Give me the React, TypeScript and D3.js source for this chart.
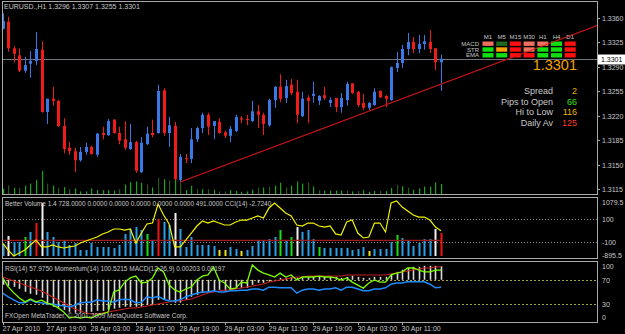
import * as d3 from "d3";
import { useEffect, useRef } from "react";

// EURUSD H1, 27 Apr 2010 11:00 .. 30 Apr 2010 18:00 (80 bars)
const opens = [
  1.3344, 1.3354, 1.3316, 1.3306, 1.3284, 1.3294, 1.3298, 1.3314, 1.3225, 1.3244,
  1.3241, 1.3205, 1.3174, 1.3169, 1.3156, 1.3168, 1.3175, 1.3164, 1.3195, 1.3192,
  1.3214, 1.3195, 1.3186, 1.3172, 1.3182, 1.3139, 1.3179, 1.3195, 1.3195, 1.3256,
  1.3195, 1.3205, 1.3128, 1.3159, 1.3158, 1.3186, 1.3202, 1.3221, 1.3205, 1.3211,
  1.3196, 1.3191, 1.3198, 1.3216, 1.3215, 1.3212, 1.3226, 1.3221, 1.3206, 1.3242,
  1.3261, 1.3245, 1.3264, 1.3254, 1.3219, 1.3245, 1.3248, 1.3241, 1.3249, 1.3238,
  1.3245, 1.3232, 1.3242, 1.3266, 1.3254, 1.3238, 1.3231, 1.3235, 1.3255, 1.3248,
  1.3242, 1.3288, 1.3295, 1.3315, 1.3325, 1.3315, 1.3322, 1.3325, 1.3316, 1.3296,
];
const highs = [
  1.3366, 1.3361, 1.3319, 1.3316, 1.3304, 1.3312, 1.3339, 1.3326, 1.3244, 1.3261,
  1.3242, 1.3216, 1.3182, 1.3174, 1.3175, 1.3181, 1.3177, 1.3195, 1.3204, 1.3215,
  1.3215, 1.3204, 1.3212, 1.3208, 1.3184, 1.3189, 1.3204, 1.3214, 1.3264, 1.3259,
  1.3218, 1.3211, 1.3165, 1.3165, 1.3202, 1.3204, 1.3224, 1.3224, 1.3212, 1.3216,
  1.3198, 1.3205, 1.3221, 1.3219, 1.3221, 1.3241, 1.3235, 1.3224, 1.3244, 1.3262,
  1.3279, 1.3271, 1.3272, 1.3271, 1.3254, 1.3249, 1.3268, 1.3249, 1.3261, 1.3246,
  1.3245, 1.3252, 1.3268, 1.3266, 1.3255, 1.3251, 1.3239, 1.3259, 1.3256, 1.3249,
  1.3290, 1.3311, 1.3321, 1.3338, 1.3332, 1.3335, 1.3335, 1.3342, 1.3316, 1.3307,
];
const lows = [
  1.3343, 1.3311, 1.3296, 1.3282, 1.3281, 1.3274, 1.3292, 1.3224, 1.3208, 1.3234,
  1.3204, 1.3166, 1.3164, 1.3139, 1.3154, 1.3164, 1.3164, 1.3161, 1.3186, 1.3191,
  1.3194, 1.3179, 1.3171, 1.3171, 1.3138, 1.3138, 1.3178, 1.3189, 1.3194, 1.3191,
  1.3175, 1.3128, 1.3125, 1.3152, 1.3152, 1.3182, 1.3195, 1.3192, 1.3186, 1.3194,
  1.3188, 1.3182, 1.3196, 1.3209, 1.3206, 1.3211, 1.3202, 1.3192, 1.3204, 1.3231,
  1.3239, 1.3238, 1.3249, 1.3209, 1.3218, 1.3209, 1.3238, 1.3235, 1.3242, 1.3232,
  1.3225, 1.3224, 1.3234, 1.3251, 1.3232, 1.3228, 1.3228, 1.3234, 1.3245, 1.3232,
  1.3241, 1.3282, 1.3288, 1.3306, 1.3309, 1.3309, 1.3314, 1.3309, 1.3285, 1.3255,
];
const closes = [
  1.3355, 1.3316, 1.3308, 1.3284, 1.3292, 1.3298, 1.3315, 1.3225, 1.3244, 1.3241,
  1.3205, 1.3172, 1.3169, 1.3156, 1.3168, 1.3175, 1.3165, 1.3194, 1.3192, 1.3212,
  1.3195, 1.3184, 1.3174, 1.3182, 1.3141, 1.3181, 1.3194, 1.3192, 1.3255, 1.3195,
  1.3206, 1.3129, 1.3161, 1.3158, 1.3186, 1.3202, 1.3221, 1.3204, 1.3212, 1.3195,
  1.3191, 1.3201, 1.3218, 1.3214, 1.3214, 1.3226, 1.3221, 1.3208, 1.3242, 1.3261,
  1.3244, 1.3262, 1.3252, 1.3221, 1.3244, 1.3241, 1.3251, 1.3248, 1.3245, 1.3242,
  1.3232, 1.3245, 1.3265, 1.3252, 1.3235, 1.3231, 1.3238, 1.3254, 1.3246, 1.3244,
  1.3289, 1.3295, 1.3315, 1.3325, 1.3315, 1.3322, 1.3326, 1.3315, 1.3296, 1.3301,
];
const volumes = [
  380, 630, 440, 440, 600, 760, 1040, 1675, 760, 600,
  440, 505, 350, 410, 190, 190, 410, 285, 285, 285,
  255, 350, 695, 855, 915, 820, 695, 475, 1170, 1075,
  980, 1360, 855, 285, 600, 350, 350, 350, 315, 190,
  190, 285, 220, 160, 190, 315, 475, 475, 535, 600,
  820, 475, 600, 915, 760, 820, 535, 285, 255, 255,
  255, 255, 255, 190, 220, 285, 160, 220, 220, 220,
  440, 665, 570, 475, 315, 410, 535, 535, 855, 728,
];
// main window volume tone: 0 bright, 1 dark
const volTone = [
  0, 1, 0, 1, 0, 0, 0, 0, 1, 0, 1, 0, 1, 0, 0, 0, 0, 0, 0, 0,
  0, 1, 0, 0, 0, 0, 1, 0, 1, 0, 1, 0, 1, 0, 0, 1, 0, 1, 0, 1,
  1, 0, 0, 0, 0, 0, 1, 0, 1, 0, 0, 1, 0, 0, 0, 1, 0, 1, 0, 0,
  0, 0, 1, 0, 1, 0, 0, 0, 1, 0, 0, 1, 0, 1, 0, 0, 0, 0, 0, 0,
];
// Better Volume class: N normal, W climax down, R climax up, G churn, Y low
const bvClass =
  "NWNNGNRWNNNNNNNNNNNNNNNNNNGNRNNWNNNNNNNYYNNYNNNNNNGNGWNNNGNNNNNNNNYNNNNGNNNNNNWR";
const avgVolume = 491;
const cci = [
  -109, -170, -222, -196, -170, -126, -83, -143, -143, -126,
  -143, -152, -143, -135, -109, -91, -74, -57, -30, -13,
  13, 13, 4, 13, -109, -22, 57, 65, 230, 135,
  57, -143, -143, -83, -22, 39, 83, 65, 83, 65,
  48, 48, 74, 91, 91, 109, 126, 109, 196, 239,
  196, 152, 126, 48, 39, 65, 65, 39, 30, 39,
  -30, -39, 74, 91, -22, -65, -57, 65, 65, -13,
  239, 257, 204, 170, 135, 117, 117, 91, 30, -2.724,
];
const rsi = [
  48, 42, 37, 32, 32, 37, 33, 32, 30, 30,
  28, 27, 25, 28, 32, 33, 33, 37, 35, 35,
  33, 37, 38, 37, 32, 33, 42, 40, 43, 38,
  35, 35, 37, 42, 45, 48, 50, 50, 52, 50,
  50, 52, 52, 53, 53, 55, 55, 53, 58, 58,
  57, 57, 57, 48, 53, 55, 55, 53, 55, 55,
  57, 53, 58, 58, 55, 52, 52, 55, 55, 57,
  63, 65, 65, 67, 67, 67, 67, 63, 57, 57.975,
];
const momentum = [
  100.26, 99.96, 99.76, 99.59, 99.46, 99.56, 99.46, 99.52, 99.42, 99.36,
  99.26, 99.12, 98.92, 98.96, 98.92, 98.96, 98.92, 99.02, 99.06, 99.12,
  99.79, 99.86, 100.12, 100.26, 100.32, 100.09, 100.12, 100.26, 100.59, 100.46,
  100.02, 99.86, 99.79, 99.89, 99.96, 100.19, 100.32, 100.36, 100.62, 100.19,
  100.09, 99.89, 99.92, 100.12, 100.09, 100.69, 100.52, 100.42, 100.36, 100.29,
  100.42, 100.29, 100.36, 100.19, 100.29, 100.29, 100.29, 100.32, 100.29, 100.29,
  100.26, 100.19, 100.26, 100.12, 100.02, 99.92, 100.09, 100.19, 100.12, 100.12,
  100.36, 100.42, 100.46, 100.59, 100.59, 100.52, 100.46, 100.46, 100.52, 100.5215,
];
const macdMain = [
  -0.00076, -0.00091, -0.00106, -0.00136, -0.00182, -0.00212, -0.00227, -0.00273, -0.00379, -0.00409,
  -0.00424, -0.00455, -0.00485, -0.005, -0.005, -0.005, -0.00485, -0.0047, -0.0047, -0.00455,
  -0.00439, -0.00424, -0.00409, -0.00409, -0.00409, -0.00409, -0.00379, -0.00379, -0.00303, -0.00303,
  -0.00303, -0.00348, -0.00348, -0.00303, -0.00258, -0.00227, -0.00197, -0.00182, -0.00167, -0.00152,
  -0.00167, -0.00152, -0.00136, -0.00121, -0.00121, -0.00076, -0.00045, -0.00045, -0.0003, -0.00005,
  0.0003, 0.0003, 0.00045, 0.0003, 0.0003, 0.00045, 0.00045, 0.00045, 0.00045, 0.00045,
  0.00045, 0.0003, 0.00045, 0.00061, 0.00045, 0.0003, 0.0003, 0.00045, 0.00045, 0.00045,
  0.00091, 0.00121, 0.00152, 0.00182, 0.00197, 0.00197, 0.00212, 0.00212, 0.00212, 0.00203,
];
const macdSignal = [
  0.00042, 0.00012, -0.00018, -0.00048, -0.00079, -0.00109, -0.00139, -0.0017, -0.00215, -0.00261,
  -0.00306, -0.00352, -0.00397, -0.00442, -0.00473, -0.00503, -0.00518, -0.00518, -0.00503, -0.00488,
  -0.00473, -0.00458, -0.00442, -0.00427, -0.00427, -0.00412, -0.00397, -0.00382, -0.00367, -0.00352,
  -0.00336, -0.00321, -0.00321, -0.00306, -0.00291, -0.00261, -0.0023, -0.002, -0.00185, -0.0017,
  -0.00155, -0.00155, -0.00139, -0.00124, -0.00109, -0.00094, -0.00079, -0.00064, -0.00033, -0.00018,
  -0.00003, 0.00012, 0.00027, 0.00042, 0.00042, 0.00058, 0.00058, 0.00058, 0.00058, 0.00058,
  0.00058, 0.00058, 0.00073, 0.00073, 0.00073, 0.00073, 0.00073, 0.00073, 0.00073, 0.00073,
  0.00088, 0.00103, 0.00118, 0.00133, 0.00148, 0.00164, 0.00179, 0.00179, 0.00194, 0.00197,
];
const dateLabels = [
  "27 Apr 2010", "27 Apr 19:00", "28 Apr 03:00", "28 Apr 11:00", "28 Apr 19:00",
  "29 Apr 03:00", "29 Apr 11:00", "29 Apr 19:00", "30 Apr 03:00", "30 Apr 11:00",
];
const priceTicks = [1.336, 1.3325, 1.329, 1.3255, 1.322, 1.3185, 1.315, 1.3115];
const trendPoints: [number, number][] = [[32, 1.3125], [107.3, 1.3349]];
const lastPrice = 1.3301;

const timeframes = ["M1", "M5", "M15", "M30", "H1", "H4", "D1"];
const signalRows = ["MACD", "STR", "EMA"];
// U strong up, u weak up, D strong down, d weak down, o flat
const signalGrid = ["duDddUD", "UoDdUUD", "UUDDUUD"];
const infoLabels = ["Spread", "Pips to Open", "Hi to Low", "Daily Av"];
const infoValues = [2, 66, 116, 125];

const cciLevels = [100, -100];
const rsiLevels = [70, 30];

export default function App() {
  const ref = useRef<SVGSVGElement>(null);

  useEffect(() => {
    const svg = d3.select(ref.current);
    svg.selectAll("*").remove();
    const root = svg.append("g").attr("font-family", "'Liberation Sans', Arial, sans-serif");
    root.append("rect").attr("width", 625).attr("height", 334).attr("fill", "#000");

    const L = 2, R = 597;
    const main = { t: 1, b: 194 }, p2 = { t: 197, b: 258 }, p3 = { t: 261, b: 322 };
    const frame = "#a9a9a9", txt = "#c8c8c8";
    const idx = d3.range(closes.length);

    const x = d3.scaleLinear().domain([0, 79]).range([2.7, 441]);
    const px = (i: number) => Math.round(x(i)) + 0.5;
    const y = d3.scaleLinear().domain([1.3115, 1.336]).range([189, 17.5]);
    const vMain = d3.scaleLinear().domain([0, 1675]).range([194, 171]);
    const vBV = d3.scaleLinear().domain([0, 1675]).range([256, 203]);
    const yCCI = d3.scaleLinear().domain([-100, 100]).range([242, 219]);
    const yRSI = d3.scaleLinear().domain([0, 100]).range([322, 262]);
    const yMom = d3.scaleLinear().domain([98.79, 100.79]).range([322, 262]);
    const yMACD = d3.scaleLinear().domain([-0.0064, 0.0027]).range([322, 262]);

    const clip = (id: string, t: number, b: number) =>
      svg.append("clipPath").attr("id", id).append("rect").attr("x", L).attr("y", t).attr("width", R - L).attr("height", b - t);
    clip("cMain", main.t, main.b);
    clip("cP2", p2.t, p2.b);
    clip("cP3", p3.t, p3.b);

    // ---- main window
    const gm = root.append("g").attr("clip-path", "url(#cMain)");
    gm.append("line").attr("x1", L).attr("x2", R)
      .attr("y1", Math.round(y(lastPrice)) + 0.5).attr("y2", Math.round(y(lastPrice)) + 0.5)
      .attr("stroke", "#6f7682");

    gm.selectAll(".vol").data(idx).join("rect")
      .attr("x", (i) => px(i) - 0.5).attr("width", 1.2)
      .attr("y", (i) => vMain(volumes[i])).attr("height", (i) => 194 - vMain(volumes[i]))
      .attr("fill", (i) => (volTone[i] ? "#2c5519" : "#1aa41a"));

    const bull = "#3a78e8", bear = "#f01c1c";
    const cg = gm.append("g");
    idx.forEach((i) => {
      const c = closes[i] >= opens[i] ? bull : bear;
      cg.append("line").attr("x1", px(i)).attr("x2", px(i))
        .attr("y1", y(highs[i])).attr("y2", y(lows[i])).attr("stroke", c);
      const top = y(Math.max(opens[i], closes[i]));
      const h = Math.max(1, Math.abs(y(opens[i]) - y(closes[i])));
      cg.append("rect").attr("x", px(i) - 1.5).attr("width", 3)
        .attr("y", top).attr("height", h).attr("fill", c);
    });

    gm.append("line")
      .attr("x1", x(trendPoints[0][0])).attr("y1", y(trendPoints[0][1]))
      .attr("x2", x(trendPoints[1][0])).attr("y2", y(trendPoints[1][1]))
      .attr("stroke", "#c81414").attr("stroke-width", 1);

    root.append("text").attr("x", 4).attr("y", 9).attr("font-size", 7).attr("fill", txt)
      .text(`EURUSD.,H1  ${opens[79].toFixed(4)} ${highs[79].toFixed(4)} ${lows[79].toFixed(4)} ${closes[79].toFixed(4)}`);

    // signal table
    const sigColor: Record<string, string> = { U: "#10e010", u: "#1d6a1d", D: "#ff1010", d: "#f07060", o: "#ffa000" };
    const colX = (c: number) => 488 + c * 13.7;
    timeframes.forEach((tf, c) => {
      root.append("text").attr("x", colX(c)).attr("y", 38.5).attr("text-anchor", "middle")
        .attr("font-size", 6).attr("fill", txt).text(tf);
    });
    signalRows.forEach((row, r) => {
      const cy = 43.5 + r * 5.8;
      root.append("text").attr("x", 479).attr("y", cy + 2.2).attr("text-anchor", "end")
        .attr("font-size", 6).attr("fill", txt).text(row);
      signalGrid[r].split("").forEach((s, c) => {
        root.append("rect").attr("x", colX(c) - 5.5).attr("y", cy - 2).attr("width", 11).attr("height", 4.4)
          .attr("fill", sigColor[s]);
      });
    });
    // trend line drawn again over the table, as the terminal does
    root.append("line").attr("clip-path", "url(#cMain)")
      .attr("x1", x(trendPoints[0][0])).attr("y1", y(trendPoints[0][1]))
      .attr("x2", x(trendPoints[1][0])).attr("y2", y(trendPoints[1][1]))
      .attr("stroke", "#c81414").attr("stroke-opacity", 0.7);

    root.append("text").attr("x", 577).attr("y", 70).attr("text-anchor", "end")
      .attr("font-size", 14.5).attr("fill", "#f5a000").text(lastPrice.toFixed(4));
    const infoColors = ["#e8b400", "#30e010", "#e8b400", "#ff3c1e"];
    infoLabels.forEach((lab, k) => {
      const by = 94 + k * 10.7;
      root.append("text").attr("x", 553).attr("y", by).attr("text-anchor", "end")
        .attr("font-size", 9).attr("fill", txt).text(lab);
      root.append("text").attr("x", 577).attr("y", by).attr("text-anchor", "end")
        .attr("font-size", 9).attr("fill", infoColors[k]).text(String(infoValues[k]));
    });

    // ---- Better Volume + CCI
    const g2 = root.append("g").attr("clip-path", "url(#cP2)");
    cciLevels.forEach((lv) => {
      g2.append("line").attr("x1", L).attr("x2", R)
        .attr("y1", Math.round(yCCI(lv)) + 0.5).attr("y2", Math.round(yCCI(lv)) + 0.5)
        .attr("stroke", "#8a8a8a").attr("stroke-dasharray", "1,2");
    });
    const bvColor: Record<string, string> = { N: "#2aa0e6", W: "#f0f0f0", R: "#f01414", G: "#18e018", Y: "#e8e020" };
    g2.selectAll(".bv").data(idx).join("rect")
      .attr("x", (i) => px(i) - 1).attr("width", 2)
      .attr("y", (i) => vBV(volumes[i])).attr("height", (i) => 256 - vBV(volumes[i]))
      .attr("fill", (i) => bvColor[bvClass[i]]);
    g2.append("line").attr("x1", L).attr("x2", x(79))
      .attr("y1", vBV(avgVolume)).attr("y2", vBV(avgVolume))
      .attr("stroke", "#a01c1c").attr("stroke-width", 1.2);
    g2.append("path").datum(idx)
      .attr("d", d3.line<number>().x((i) => x(i)).y((i) => yCCI(cci[i])))
      .attr("fill", "none").attr("stroke", "#f2f200").attr("stroke-width", 1.2);
    root.append("text").attr("x", 5).attr("y", 205.5).attr("font-size", 6.5).attr("fill", txt)
      .text(`Better Volume 1.4 ${volumes[79].toFixed(4)} 0.0000 0.0000 0.0000 0.0000 0.0000 ${avgVolume.toFixed(4)} CCI(14) ${cci[79].toFixed(4)}`);

    // ---- RSI / Momentum / MACD
    const g3 = root.append("g").attr("clip-path", "url(#cP3)");
    rsiLevels.forEach((lv) => {
      g3.append("line").attr("x1", L).attr("x2", R)
        .attr("y1", Math.round(yRSI(lv)) + 0.5).attr("y2", Math.round(yRSI(lv)) + 0.5)
        .attr("stroke", "#a8a040").attr("stroke-dasharray", "2,2");
    });
    g3.selectAll(".macd").data(idx).join("rect")
      .attr("x", (i) => px(i) - 0.8).attr("width", 1.6)
      .attr("y", (i) => Math.min(yMACD(0), yMACD(macdMain[i])))
      .attr("height", (i) => Math.abs(yMACD(0) - yMACD(macdMain[i])))
      .attr("fill", "#d8d8d8");
    const ln = (arr: number[], sc: d3.ScaleLinear<number, number>) =>
      d3.line<number>().x((i) => x(i)).y((i) => sc(arr[i]))(idx);
    g3.append("path").attr("d", ln(macdSignal, yMACD)).attr("fill", "none").attr("stroke", "#c81e1e").attr("stroke-width", 1.1);
    g3.append("path").attr("d", ln(rsi, yRSI)).attr("fill", "none").attr("stroke", "#1e8cff").attr("stroke-width", 1.5);
    g3.append("path").attr("d", ln(momentum, yMom)).attr("fill", "none").attr("stroke", "#7cfc00").attr("stroke-width", 1.3);
    root.append("text").attr("x", 5).attr("y", 270.5).attr("font-size", 6.5).attr("fill", txt)
      .text(`RSI(14) ${rsi[79].toFixed(4)}  Momentum(14) ${momentum[79].toFixed(4)}  MACD(12,26,9) ${macdMain[79].toFixed(5)} ${macdSignal[79].toFixed(5)}`);
    root.append("text").attr("x", 5).attr("y", 318).attr("font-size", 6.5).attr("fill", txt)
      .text("FXOpen MetaTrader, © 2001-2009 MetaQuotes Software Corp.");

    // ---- frames
    [main, p2, p3].forEach((p) => {
      root.append("rect").attr("x", L + 0.5).attr("y", p.t + 0.5).attr("width", R - L).attr("height", p.b - p.t)
        .attr("fill", "none").attr("stroke", frame);
    });

    // ---- price axis
    priceTicks.forEach((p) => {
      const yy = Math.round(y(p)) + 0.5;
      root.append("line").attr("x1", R).attr("x2", R + 3).attr("y1", yy).attr("y2", yy).attr("stroke", frame);
      root.append("text").attr("x", 602).attr("y", yy + 2.5).attr("font-size", 7).attr("fill", txt).text(p.toFixed(4));
    });
    const ly = Math.round(y(lastPrice)) + 0.5;
    root.append("rect").attr("x", 598).attr("y", ly - 5).attr("width", 27).attr("height", 10).attr("fill", "#fff");
    root.append("text").attr("x", 601).attr("y", ly + 2.5).attr("font-size", 7).attr("fill", "#000").text(lastPrice.toFixed(4));

    const rightLabel = (t: string, yy: number) =>
      root.append("text").attr("x", 602).attr("y", yy + 2.5).attr("font-size", 7).attr("fill", txt).text(t);
    rightLabel("1079.5", 202);
    cciLevels.forEach((lv) => rightLabel(String(lv), yCCI(lv)));
    rightLabel("-895.5", 255);
    rightLabel("100", 266);
    rsiLevels.forEach((lv) => rightLabel(String(lv), yRSI(lv)));
    rightLabel("0", 317);

    // ---- time axis
    dateLabels.forEach((d, k) => {
      const xx = px(k * 8);
      root.append("line").attr("x1", xx).attr("x2", xx).attr("y1", 322).attr("y2", 325).attr("stroke", frame);
      root.append("text").attr("x", xx - 1).attr("y", 331).attr("font-size", 7).attr("fill", txt).text(d);
    });
  }, []);

  return (
    <svg
      ref={ref}
      width={625}
      height={334}
      style={{ position: "absolute", left: 0, top: 0, display: "block" }}
    />
  );
}
